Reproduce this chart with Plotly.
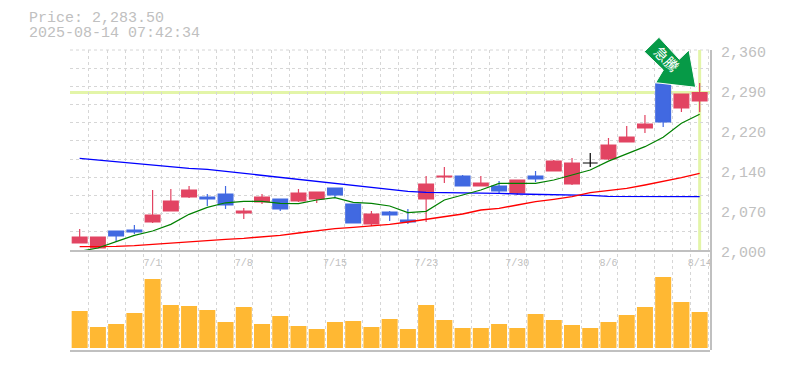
import plotly.graph_objects as go

TITLE_PRICE = "Price: 2,283.50"
TITLE_TIME = "2025-08-14 07:42:34"
opens = [2012.6,2003.6,2034.2,2036.0,2050.4,2070.2,2095.4,2095.4,2100.8,2066.6,2086.4,2091.8,2088.2,2091.8,2111.6,2082.8,2046.8,2068.4,2054.0,2091.8,2131.4,2133.2,2115.2,2115.2,2102.6,2133.2,2142.2,2118.8,2156.6,2163.8,2194.4,2219.6,2299.0,2255.6,2268.2]
highs = [2037.8,2023.4,2034.2,2045.0,2108.0,2109.8,2115.2,2100.8,2115.2,2075.6,2100.8,2091.8,2109.8,2104.4,2111.6,2082.8,2070.2,2070.2,2073.8,2133.2,2149.4,2135.0,2133.2,2124.2,2126.0,2142.2,2162.0,2165.6,2174.6,2201.6,2223.2,2243.0,2299.0,2280.8,2300.6]
lows = [2012.6,2003.6,2014.4,2028.8,2048.6,2070.2,2093.6,2079.2,2073.8,2055.8,2082.8,2070.2,2086.4,2084.6,2093.6,2048.6,2043.2,2052.2,2046.8,2050.4,2120.6,2115.2,2115.2,2100.8,2099.0,2122.4,2142.2,2117.0,2149.4,2162.0,2194.4,2210.6,2221.4,2248.4,2248.4]
closes = [2023.4,2023.4,2025.2,2032.4,2063.0,2088.2,2108.0,2091.8,2081.0,2070.2,2095.4,2073.8,2102.6,2104.4,2099.0,2048.6,2064.8,2063.0,2050.4,2118.8,2133.2,2115.2,2120.6,2106.2,2126.0,2127.8,2160.2,2156.6,2156.6,2189.0,2203.4,2226.8,2230.4,2280.8,2283.5]
ma_green = [1997.6,2003.6,2015.0,2026.4,2034.2,2046.2,2064.2,2076.8,2085.0,2087.6,2087.6,2084.0,2083.4,2090.0,2094.2,2085.8,2084.0,2079.2,2067.2,2069.6,2090.0,2099.0,2108.0,2120.0,2120.0,2120.0,2126.0,2135.0,2144.0,2160.0,2173.0,2186.0,2203.0,2228.0,2244.2]
ma_red = [2006.0,2006.0,2006.6,2007.8,2010.2,2012.0,2015.0,2018.0,2019.2,2021.0,2023.4,2026.4,2030.6,2034.8,2038.4,2040.8,2043.2,2046.2,2050.4,2055.2,2060.0,2064.8,2072.0,2075.0,2081.0,2087.0,2091.2,2096.0,2103.2,2106.8,2111.0,2117.0,2123.0,2130.2,2138.0]
ma_blue = [2165.0,2162.0,2159.0,2156.0,2153.0,2149.4,2147.0,2145.2,2141.6,2139.2,2135.6,2131.4,2127.5,2124.2,2120.6,2116.4,2112.8,2109.8,2105.6,2103.8,2103.5,2103.2,2102.6,2102.0,2100.8,2100.2,2100.2,2098.4,2098.4,2096.6,2096.4,2096.2,2096.0,2096.0,2096.0]
volumes = [37,21,24,35,69,43,42,38,26,41,24,32,22,19,26,27,21,29,19,43,28,20,20,24,20,34,28,23,20,26,33,41,71,46,36]
date_labels = ["7/1","7/8","7/15","7/23","7/30","8/6","8/14"]
date_positions = [4,9,14,19,24,29,34]
price_ticks = [2000,2072,2144,2216,2288,2360]
price_labels = ["2,000","2,070","2,140","2,220","2,290","2,360"]
last_price = 2283.5
badge_text = "急騰"

GRID="#d6d6d6"; AXIS="#c0c0c0"; TXT="#c0c0c0"
RED="#e24462"; BLUE="#4169e1"; VOL="#ffb833"; HL="#e3f5a8"; ARROW="#069a47"
MONO="Liberation Mono"
L,R,T,B=70,710,50,350
def px(x): return (x-L)/(R-L)
def py(y): return (B-y)/(B-T)
xs=list(range(len(opens)))
xr=[-0.53,-0.53+(R-L)/18.235]
is_doji=[o==c for o,c in zip(opens,closes)]
def pick(a,doji): return [v if d==doji else None for v,d in zip(a,is_doji)]

fig=go.Figure()
fig.add_trace(go.Scatter(x=[0],y=[0],mode="markers",marker=dict(opacity=0),xaxis="x",yaxis="y",hoverinfo="skip",showlegend=False))
def candle(doji,inc,dec):
    return go.Candlestick(x=xs,open=pick(opens,doji),high=pick(highs,doji),low=pick(lows,doji),close=pick(closes,doji),
        increasing=dict(line=dict(color=inc,width=1.2),fillcolor=inc),decreasing=dict(line=dict(color=dec,width=1.2),fillcolor=dec),
        whiskerwidth=0,xaxis="x2",yaxis="y2",showlegend=False)
fig.add_trace(candle(False,RED,BLUE))
fig.add_trace(candle(True,"#000000","#000000"))
for vals,col,w in [(ma_blue,"#0000ff",1.4),(ma_red,"#ff0000",1.4),(ma_green,"#008000",1.2)]:
    fig.add_trace(go.Scatter(x=xs,y=vals,mode="lines",line=dict(color=col,width=w),cliponaxis=False,xaxis="x2",yaxis="y2",showlegend=False))
fig.add_trace(go.Bar(x=xs,y=volumes,marker=dict(color=VOL,line=dict(width=0)),xaxis="x3",yaxis="y3",showlegend=False))

shapes=[
 dict(type="line",xref="x2 domain",yref="y2 domain",x0=0,x1=1,y0=1,y1=1,line=dict(color=GRID,width=1,dash="3px,3px"),layer="below"),
 dict(type="line",xref="x2 domain",yref="y2",x0=0,x1=1,y0=last_price,y1=last_price,line=dict(color=HL,width=3),layer="below"),
 dict(type="line",xref="x2",yref="y2 domain",x0=34,x1=34,y0=0,y1=1,line=dict(color=HL,width=3),layer="below"),
]
arrow=[(659,37.3),(644.3,51.7),(663.3,70),(655.7,82.7),(695.7,87.3),(689,50),(679.3,59.3)]
path="M "+" L ".join(f"{px(x):.5f},{py(y):.5f}" for x,y in arrow)+" Z"
shapes.append(dict(type="path",xref="paper",yref="paper",path=path,fillcolor=ARROW,line=dict(color="#ffffff",width=1),layer="above"))

ann=[dict(xref="paper",yref="paper",x=px(27),y=py(18.5),text=TITLE_PRICE,showarrow=False,xanchor="left",yanchor="middle",font=dict(family=MONO,size=15,color=TXT)),
     dict(xref="paper",yref="paper",x=px(27),y=py(33.5),text=TITLE_TIME,showarrow=False,xanchor="left",yanchor="middle",font=dict(family=MONO,size=15,color=TXT)),
     dict(xref="paper",yref="paper",x=px(667.3),y=py(58.7),text=badge_text,textangle=45,showarrow=False,xanchor="center",yanchor="middle",font=dict(family="Noto Sans CJK JP",size=14,color="#ffffff"))]
for v,t in zip(price_ticks,price_labels):
    ann.append(dict(xref="paper",yref="y2",x=px(719),y=v,yshift=-3,text=t,showarrow=False,xanchor="left",yanchor="middle",font=dict(family=MONO,size=15,color=TXT)))

axis_off=dict(showgrid=False,zeroline=False,showticklabels=False,ticks="")
fig.update_layout(width=785,height=370,margin=dict(l=L,r=785-R,t=T,b=370-B),autosize=False,
 paper_bgcolor="#ffffff",plot_bgcolor="rgba(0,0,0,0)",showlegend=False,bargap=0.1226,boxgap=0.19,boxgroupgap=0,boxmode="overlay",shapes=shapes,annotations=ann,
 xaxis=dict(range=xr,domain=[0,1],showgrid=True,gridcolor=GRID,griddash="3px,3px",gridwidth=1,tick0=-0.5,dtick=1,zeroline=False,showticklabels=False,ticks=""),
 yaxis=dict(range=[0,1],domain=[0,1],side="right",showline=True,linecolor=AXIS,linewidth=1.5,showgrid=False,zeroline=False,showticklabels=False,ticks=""),
 xaxis2=dict(range=xr,anchor="y2",domain=[0,1],rangeslider=dict(visible=False),showgrid=False,zeroline=False,showline=True,linecolor=AXIS,linewidth=1.5,
             tickmode="array",tickvals=date_positions,ticktext=date_labels,ticks="",ticklabelstandoff=2,tickfont=dict(family=MONO,size=10,color=TXT)),
 yaxis2=dict(range=[2000,2360],anchor="x2",domain=[(B-250)/(B-T),1],showgrid=True,gridcolor=GRID,griddash="3px,3px",gridwidth=1,tick0=2000,dtick=32.7272,zeroline=False,showticklabels=False,ticks=""),
 xaxis3=dict(range=xr,anchor="y3",domain=[0,1],showline=True,linecolor=AXIS,linewidth=1.5,**axis_off),
 yaxis3=dict(range=[-2,78],anchor="x3",domain=[0,80/(B-T)],**axis_off),
)
fig.write_html("out.html",config={"displayModeBar":False},post_script="document.body.style.margin='0';")
